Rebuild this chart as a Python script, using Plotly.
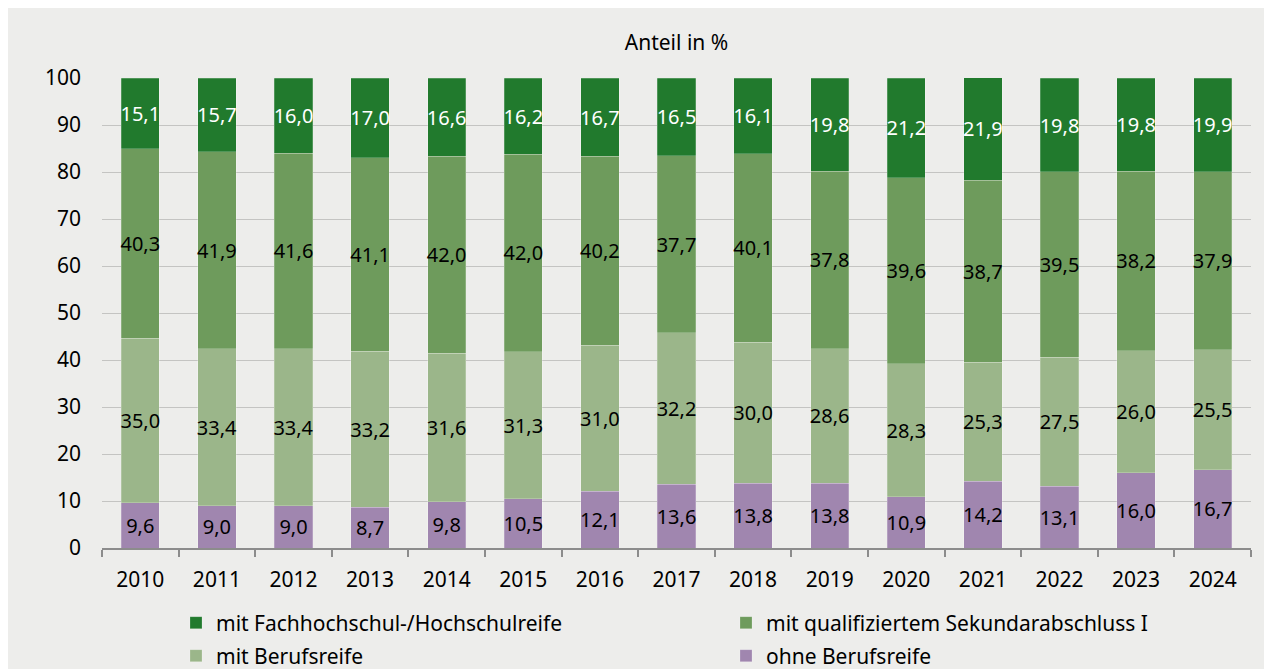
import plotly.graph_objects as go

years = [str(y) for y in range(2010, 2025)]

ohne_berufsreife = [9.6, 9.0, 9.0, 8.7, 9.8, 10.5, 12.1, 13.6, 13.8, 13.8, 10.9, 14.2, 13.1, 16.0, 16.7]
mit_berufsreife = [35.0, 33.4, 33.4, 33.2, 31.6, 31.3, 31.0, 32.2, 30.0, 28.6, 28.3, 25.3, 27.5, 26.0, 25.5]
mit_sek_i = [40.3, 41.9, 41.6, 41.1, 42.0, 42.0, 40.2, 37.7, 40.1, 37.8, 39.6, 38.7, 39.5, 38.2, 37.9]
mit_hochschulreife = [15.1, 15.7, 16.0, 17.0, 16.6, 16.2, 16.7, 16.5, 16.1, 19.8, 21.2, 21.9, 19.8, 19.8, 19.9]

y_ticks = list(range(0, 101, 10))

FONT = "Noto Sans"
BG = "#EDEDEB"

# stacking order bottom -> top; legend rows: row 2 = first two, row 1 = last two
series = [
    ("ohne Berufsreife", ohne_berufsreife, "#A086AF", "black", "legend2"),
    ("mit Berufsreife", mit_berufsreife, "#9BB68A", "black", "legend2"),
    ("mit qualifiziertem Sekundarabschluss I", mit_sek_i, "#6E9B5C", "black", "legend"),
    ("mit Fachhochschul-/Hochschulreife", mit_hochschulreife, "#217A2D", "white", "legend"),
]

fig = go.Figure()
for name, vals, color, txt_color, leg in series:
    fig.add_trace(
        go.Bar(
            name=name,
            x=years,
            y=vals,
            legend=leg,
            marker=dict(color=color, line=dict(color="rgba(255,255,255,0.35)", width=0.6)),
            texttemplate="%{y:.1f}",
            textposition="inside",
            insidetextanchor="middle",
            textangle=0,
            textfont=dict(color=txt_color, size=20, family=FONT),
            hovertemplate="%{x}<br>" + name + ": %{y:.1f} %<extra></extra>",
        )
    )

# the page puts the figure at (8, 8); figure is 1264x661
W, H = 1264, 661
# plot area in figure px: x 94..1243, y 70..540
L, R, T, B = 94, 21, 70, 121
pw = W - L - R
ph = H - T - B

legend_style = dict(
    orientation="h",
    traceorder="reversed",
    x=(168 - L) / pw,
    xanchor="left",
    yanchor="middle",
    entrywidth=505,
    entrywidthmode="pixels",
    font=dict(size=21, family=FONT),
    bgcolor="rgba(0,0,0,0)",
)

fig.update_layout(
    width=W,
    height=H,
    barmode="stack",
    bargap=0.5,
    separators=",.",
    paper_bgcolor=BG,
    plot_bgcolor=BG,
    font=dict(family=FONT, size=21, color="black"),
    margin=dict(l=L, r=R, t=T, b=B, autoexpand=False),
    uniformtext=dict(minsize=20, mode="show"),
    title=dict(
        text="Anteil in %",
        x=(L + pw / 2) / W,
        xanchor="center",
        y=1 - 35 / H,
        yanchor="middle",
        font=dict(size=21, family=FONT, color="black"),
    ),
    xaxis=dict(
        showline=True,
        linecolor="#8C8C8C",
        linewidth=1.5,
        ticks="outside",
        tickson="boundaries",
        ticklen=7,
        tickcolor="#8C8C8C",
        tickwidth=1.5,
        showgrid=False,
        ticklabelstandoff=12,
        tickfont=dict(size=21),
    ),
    yaxis=dict(
        range=[0, 100],
        tickvals=y_ticks,
        showgrid=True,
        gridcolor="#C4C4C2",
        gridwidth=1,
        zeroline=False,
        ticks="",
        ticklabelstandoff=20,
        tickfont=dict(size=21),
    ),
    legend=dict(legend_style, y=-(615 - H + B) / ph),
    legend2=dict(legend_style, y=-(648 - H + B) / ph),
    showlegend=True,
)

fig.write_html("out.html")
